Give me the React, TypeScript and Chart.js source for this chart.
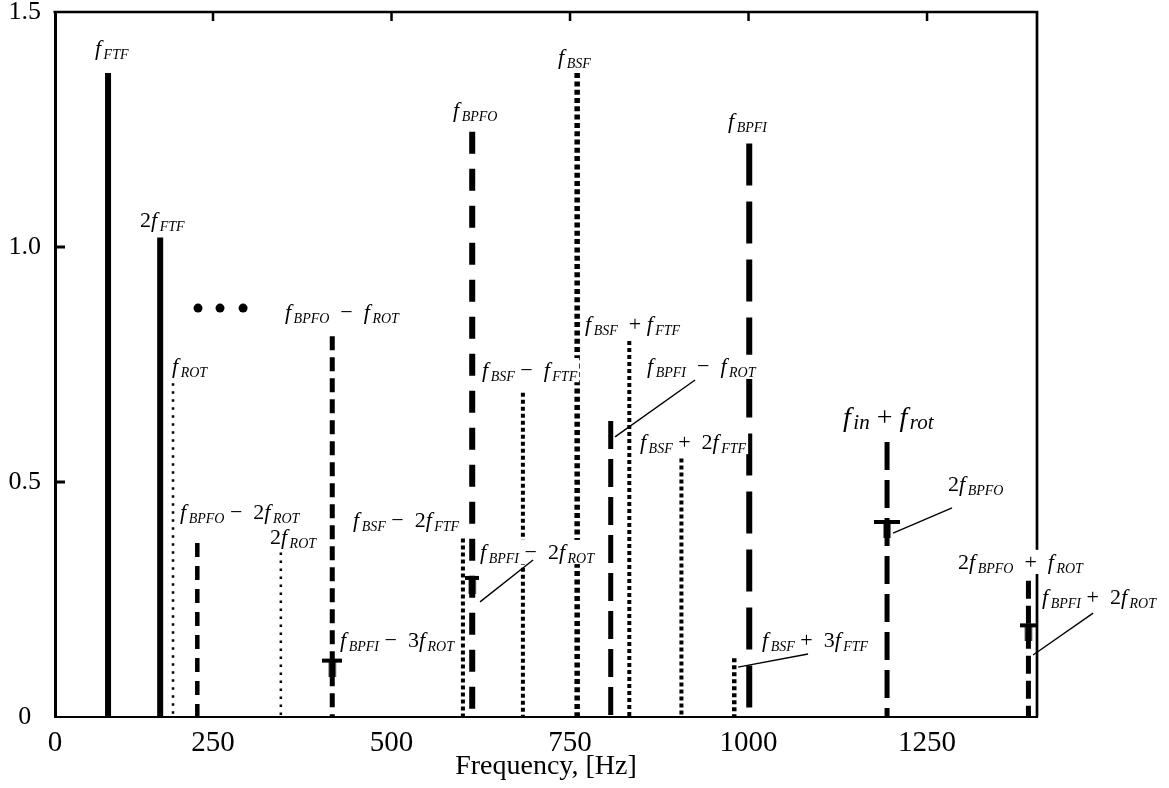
import React, { useEffect, useRef } from "react";
import { Chart, registerables } from "chart.js";

Chart.register(...registerables);

// ---------- data ----------
const X_MIN = 28.7;
const X_MAX = 1404;
const xTickValues = [250, 500, 750, 1000, 1250];
const yTickValues = [0, 0.5, 1.0, 1.5];
const yInnerTicks = [0.5, 1.0];

const lineNames = [
  "f_FTF", "2f_FTF", "f_ROT", "f_BPFO - 2f_ROT", "2f_ROT", "f_BPFO - f_ROT",
  "f_BSF - 2f_FTF", "f_BPFO", "f_BSF - f_FTF", "f_BSF", "f_BPFI - f_ROT",
  "f_BSF + f_FTF", "f_BSF + 2f_FTF", "f_BSF + 3f_FTF", "f_BPFI", "f_in + f_rot",
  "2f_BPFO + f_ROT",
];
const lineFreqs = [103, 176, 194, 228, 345, 417, 600, 613, 684, 760, 807, 833, 906, 980, 1001, 1194, 1392];
const lineAmps = [1.37, 1.02, 0.71, 0.37, 0.35, 0.81, 0.38, 1.245, 0.69, 1.37, 0.63, 0.8, 0.55, 0.125, 1.22, 0.585, 0.29];

// T-shaped marks on existing lines
const tNames = ["f_BPFI - 3f_ROT", "f_BPFI - 2f_ROT", "2f_BPFO", "f_BPFI + 2f_ROT"];
const tFreqs = [417, 613, 1194, 1392];
const tAmps = [0.12, 0.296, 0.415, 0.195];

// annotation texts (f_{X} = f with subscript X)
const labelTexts = [
  "f_{FTF}", "2f_{FTF}", "f_{ROT}", "f_{BPFO}  −  f_{ROT}", "f_{BPFO} −  2f_{ROT}",
  "2f_{ROT}", "f_{BSF} −  2f_{FTF}", "f_{BPFI} −  3f_{ROT}", "f_{BPFO}", "f_{BSF}",
  "f_{BPFI}", "f_{BSF}  + f_{FTF}", "f_{BSF} −  f_{FTF}", "f_{BPFI}  −  f_{ROT}",
  "f_{BSF} +  2f_{FTF}", "f_{BPFI} −  2f_{ROT}", "f_{BSF} +  3f_{FTF}", "f_{in} + f_{rot}",
  "2f_{BPFO}", "2f_{BPFO}  +  f_{ROT}", "f_{BPFI} +  2f_{ROT}",
];
const labelFreqs = [84.7, 147.8, 192.6, 350.8, 203.8, 329.8, 446.1, 427.9, 586.2, 733.2, 971.3, 771.0, 626.8, 857.9, 848.0, 624.0, 1018.9, 1132.4, 1279.4, 1293.4, 1411.1];
const labelAmps = [1.423, 1.057, 0.745, 0.86, 0.436, 0.383, 0.419, 0.164, 1.291, 1.404, 1.268, 0.836, 0.738, 0.745, 0.585, 0.351, 0.164, 0.636, 0.494, 0.33, 0.255];

// leader lines [from label] -> [to line]
const leaderFromFreqs = [925.1, 698.2, 1083.4, 1285.0, 1482.6];
const leaderFromAmps = [0.717, 0.334, 0.134, 0.445, 0.221];
const leaderToFreqs = [813.0, 624.0, 985.4, 1202.4, 1398.5];
const leaderToAmps = [0.596, 0.245, 0.106, 0.391, 0.132];

// "• • •"
const dotFreqs = [229.0, 259.8, 292.1];
const dotAmps = [0.87, 0.87, 0.87];

// ---------- styles ----------
const lineWidths = [6, 6, 2.5, 4.5, 2.5, 5, 4, 6, 4, 5.5, 5, 4, 4, 4.5, 6, 5, 5];
const lineDashes: number[][] = [
  [], [], [2.5, 5.5], [14, 9], [2.5, 5.5], [14, 7], [4, 3], [22, 15], [4, 3],
  [5, 3.3], [28, 10], [4, 3], [4, 3], [4, 3], [42, 16], [28, 10], [18, 7],
];
const tHalfWidths = [10, 7, 13, 8];
const SERIF = '"Liberation Serif", "Times New Roman", serif';

function makeT(half: number): HTMLCanvasElement {
  const stem = 16;
  const c = document.createElement("canvas");
  c.width = half * 2;
  c.height = stem * 2;
  const g = c.getContext("2d")!;
  g.fillStyle = "#000";
  g.fillRect(0, stem - 2, half * 2, 4);
  g.fillRect(half - 3.5, stem, 7, stem);
  return c;
}

function drawMath(ctx: CanvasRenderingContext2D, text: string, x: number, yMid: number, big: boolean) {
  const mainSize = big ? 28 : 22;
  const subSize = big ? 21 : 14;
  const subShift = big ? 3 : 4;
  const fItal = `italic ${mainSize}px ${SERIF}`;
  const fUp = `${mainSize}px ${SERIF}`;
  const fSub = `italic ${subSize}px ${SERIF}`;
  const parts: { t: string; font: string; dy: number; extra: number; w?: number }[] = [];
  const re = /f_\{([^}]*)\}/g;
  let last = 0;
  let m: RegExpExecArray | null;
  while ((m = re.exec(text))) {
    if (m.index > last) parts.push({ t: text.slice(last, m.index), font: fUp, dy: 0, extra: 0 });
    parts.push({ t: "f", font: fItal, dy: 0, extra: 2.5 });
    parts.push({ t: m[1], font: fSub, dy: subShift, extra: 0 });
    last = m.index + m[0].length;
  }
  if (last < text.length) parts.push({ t: text.slice(last), font: fUp, dy: 0, extra: 0 });
  let w = 0;
  for (const p of parts) {
    ctx.font = p.font;
    p.w = ctx.measureText(p.t).width + p.extra;
    w += p.w;
  }
  ctx.fillStyle = "#fff";
  ctx.fillRect(x - 2, yMid - mainSize * 0.55, w + 4, mainSize * 1.1);
  ctx.fillStyle = "#000";
  ctx.textAlign = "left";
  ctx.textBaseline = "alphabetic";
  const baseline = yMid + mainSize * 0.3;
  let cx = x;
  for (const p of parts) {
    ctx.font = p.font;
    ctx.fillText(p.t, cx, baseline + p.dy);
    cx += p.w!;
  }
}

const annotationPlugin = {
  id: "annotations",
  afterDraw(chart: any) {
    const { ctx, chartArea, scales } = chart;
    const xs = scales.x;
    const ys = scales.y;
    ctx.save();
    // frame top / right
    ctx.strokeStyle = "#000";
    ctx.lineCap = "butt";
    ctx.lineWidth = 2.7;
    ctx.beginPath();
    ctx.moveTo(chartArea.left - 1.5, chartArea.top);
    ctx.lineTo(chartArea.right, chartArea.top);
    ctx.lineTo(chartArea.right, chartArea.bottom);
    ctx.stroke();
    // inward ticks
    ctx.lineWidth = 2.5;
    for (const v of xTickValues) {
      const px = xs.getPixelForValue(v);
      ctx.beginPath();
      ctx.moveTo(px, chartArea.top);
      ctx.lineTo(px, chartArea.top + 9);
      ctx.stroke();
    }
    ctx.lineWidth = 3;
    for (const v of yInnerTicks) {
      const py = ys.getPixelForValue(v);
      ctx.beginPath();
      ctx.moveTo(chartArea.left, py);
      ctx.lineTo(chartArea.left + 10, py);
      ctx.stroke();
    }
    // labels
    labelTexts.forEach((t, i) => {
      drawMath(ctx, t, xs.getPixelForValue(labelFreqs[i]), ys.getPixelForValue(labelAmps[i]), t.includes("{in}"));
    });
    // leader lines
    ctx.lineWidth = 1.4;
    leaderFromFreqs.forEach((f, i) => {
      ctx.beginPath();
      ctx.moveTo(xs.getPixelForValue(f), ys.getPixelForValue(leaderFromAmps[i]));
      ctx.lineTo(xs.getPixelForValue(leaderToFreqs[i]), ys.getPixelForValue(leaderToAmps[i]));
      ctx.stroke();
    });
    // dots
    ctx.fillStyle = "#000";
    dotFreqs.forEach((f, i) => {
      ctx.beginPath();
      ctx.arc(xs.getPixelForValue(f), ys.getPixelForValue(dotAmps[i]), 4.5, 0, Math.PI * 2);
      ctx.fill();
    });
    ctx.restore();
  },
};

export default function App() {
  const ref = useRef<HTMLCanvasElement>(null);
  useEffect(() => {
    const canvas = ref.current!;
    const tCanvases = tHalfWidths.map(makeT);
    const lineDatasets = lineNames.map((name, i) => ({
      type: "line" as const,
      label: name,
      data: [
        { x: lineFreqs[i], y: lineAmps[i] },
        { x: lineFreqs[i], y: 0 },
      ],
      borderColor: "#000",
      borderWidth: lineWidths[i],
      borderDash: lineDashes[i],
      pointRadius: 0,
      fill: false,
      tension: 0,
    }));
    const tDataset = {
      type: "scatter" as const,
      label: tNames.join(", "),
      data: tFreqs.map((x, i) => ({ x, y: tAmps[i] })),
      pointStyle: tCanvases,
      pointRadius: 10,
      showLine: false,
      borderColor: "#000",
      backgroundColor: "#000",
    };
    const chart = new Chart(canvas, {
      type: "line",
      data: { datasets: [...lineDatasets, tDataset] as any },
      plugins: [annotationPlugin],
      options: {
        animation: false,
        responsive: false,
        devicePixelRatio: 1,
        layout: { padding: { left: 0, top: 12, right: 132, bottom: 0 } },
        plugins: { legend: { display: false }, tooltip: { enabled: false } },
        scales: {
          x: {
            type: "linear",
            min: X_MIN,
            max: X_MAX,
            afterBuildTicks: (s: any) => {
              s.ticks = [{ value: X_MIN }, ...xTickValues.map((v) => ({ value: v }))];
            },
            afterFit: (s: any) => {
              s.height = 71;
              s.paddingLeft = 0;
              s.paddingRight = 0;
              s.paddingTop = 0;
              s.paddingBottom = 0;
            },
            grid: { display: false, drawTicks: false, tickLength: 0 },
            border: { display: true, color: "#000", width: 2 },
            ticks: {
              color: "#000",
              padding: 9,
              maxRotation: 0,
              autoSkip: false,
              font: { family: SERIF, size: 29 },
              callback: (v: any) => (v === X_MIN ? "0" : String(v)),
            },
            title: {
              display: true,
              text: "Frequency, [Hz]",
              color: "#000",
              font: { family: SERIF, size: 28 },
              padding: { top: 0, bottom: 5 },
            },
          },
          y: {
            type: "linear",
            min: 0,
            max: 1.5,
            afterBuildTicks: (s: any) => {
              s.ticks = yTickValues.map((v) => ({ value: v }));
            },
            afterFit: (s: any) => {
              s.width = 55;
              s.paddingLeft = 0;
              s.paddingRight = 0;
              s.paddingTop = 0;
              s.paddingBottom = 0;
            },
            grid: { display: false, drawTicks: false, tickLength: 0 },
            border: { display: true, color: "#000", width: 3 },
            ticks: {
              color: "#000",
              padding: 14,
              crossAlign: "center",
              autoSkip: false,
              font: { family: SERIF, size: 26 },
              callback: (v: any) => (v === 0 ? "0" : Number(v).toFixed(1)),
            },
          },
        },
      } as any,
    });
    return () => chart.destroy();
  }, []);
  return (
    <div style={{ position: "fixed", left: 0, top: 0, width: 1169, height: 788, background: "#fff" }}>
      <canvas ref={ref} width={1169} height={788} style={{ display: "block", width: 1169, height: 788 }} />
    </div>
  );
}
